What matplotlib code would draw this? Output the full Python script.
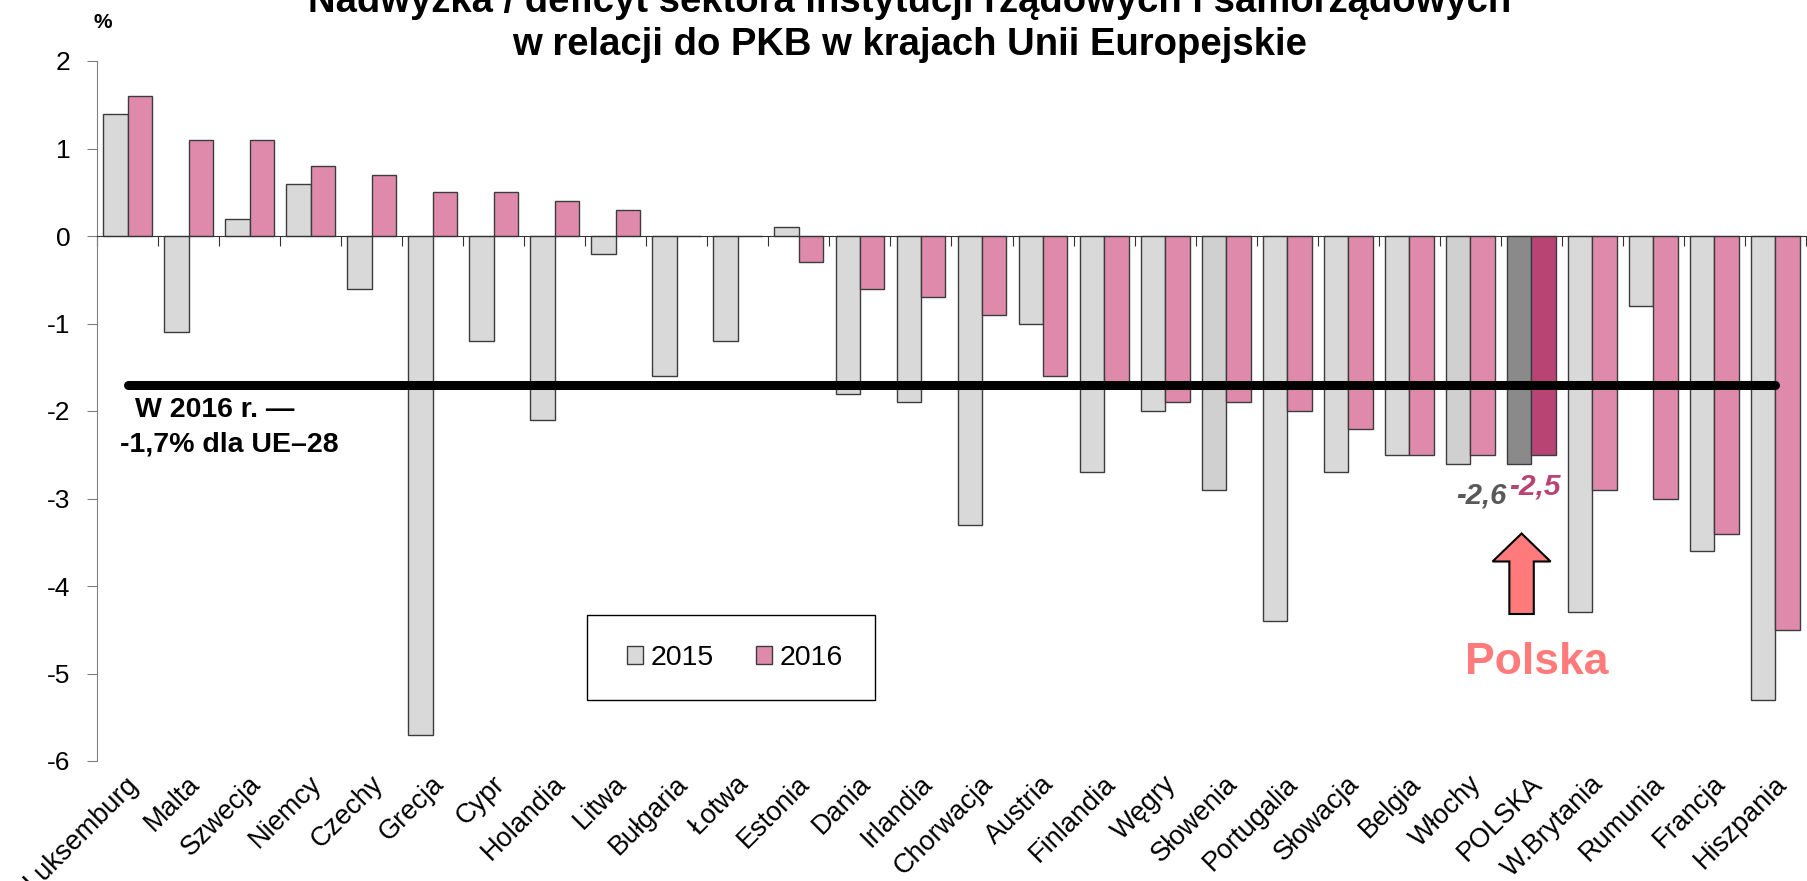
import matplotlib
matplotlib.use("Agg")
import matplotlib.pyplot as plt
import matplotlib.transforms as mtransforms
from matplotlib.patches import FancyArrow, Rectangle
import numpy as np

plt.rcParams["font.family"] = ["Liberation Sans", "DejaVu Sans"]

# General government surplus / deficit, % of GDP
countries = ["Luksemburg", "Malta", "Szwecja", "Niemcy", "Czechy", "Grecja", "Cypr",
             "Holandia", "Litwa", "Bułgaria", "Łotwa", "Estonia", "Dania", "Irlandia",
             "Chorwacja", "Austria", "Finlandia", "Węgry", "Słowenia", "Portugalia",
             "Słowacja", "Belgia", "Włochy", "POLSKA", "W.Brytania", "Rumunia",
             "Francja", "Hiszpania"]
balance_2015 = [1.4, -1.1, 0.2, 0.6, -0.6, -5.7, -1.2, -2.1, -0.2, -1.6, -1.2, 0.1,
                -1.8, -1.9, -3.3, -1.0, -2.7, -2.0, -2.9, -4.4, -2.7, -2.5, -2.6,
                -2.6, -4.3, -0.8, -3.6, -5.3]
balance_2016 = [1.6, 1.1, 1.1, 0.8, 0.7, 0.5, 0.5, 0.4, 0.3, 0.0, 0.0, -0.3,
                -0.6, -0.7, -0.9, -1.6, -1.7, -1.9, -1.9, -2.0, -2.2, -2.5, -2.5,
                -2.5, -2.9, -3.0, -3.4, -4.5]
series_names = ["2015", "2016"]
eu28_2016 = -1.7
y_ticks = [2, 1, 0, -1, -2, -3, -4, -5, -6]
highlight = "POLSKA"
title_lines = ["Nadwyżka / deficyt sektora instytucji rządowych i samorządowych",
               "w relacji do PKB w krajach Unii Europejskie"]
eu_note = ["W 2016 r. —", "-1,7% dla UE–28"]
arrow_label = "Polska"

W, H = 1808, 881
fig = plt.figure(figsize=(W / 100, H / 100), dpi=100)
ax = fig.add_axes([97 / W, 1 - 761 / H, (1806 - 97) / W, (761 - 61) / H])

n = len(countries)
x = np.arange(n)
bw = 0.4
hi = countries.index(highlight)

col15 = ["#d9d9d9"] * n
col16 = ["#df8aab"] * n
col15[countries.index("Słowenia")] = "#d0d0d0"
col15[countries.index("Włochy")] = "#d0d0d0"
col15[hi] = "#8a8a8a"
col16[hi] = "#b84473"

edge = "#3c3c3c"
ax.bar(x - bw / 2, balance_2015, bw, color=col15, edgecolor=edge, linewidth=1.0,
       label=series_names[0], zorder=2)
ax.bar(x + bw / 2, balance_2016, bw, color=col16, edgecolor=edge, linewidth=1.0,
       label=series_names[1], zorder=2)

ax.set_xlim(-0.5, n - 0.5)
ax.set_ylim(y_ticks[-1], y_ticks[0])

# axes styling: category axis crosses at zero, labels sit below the plot
for s in ("top", "right"):
    ax.spines[s].set_visible(False)
ax.spines["left"].set_color("#808080")
ax.spines["bottom"].set_position(("data", 0))
ax.spines["bottom"].set_color("#333333")
ax.spines["bottom"].set_zorder(3)
ax.set_xticks(np.arange(n + 1) - 0.5)
ax.tick_params(axis="x", direction="out", length=7, color="#333333", labelbottom=False)
ax.set_yticks(y_ticks)
ax.set_yticklabels([str(t) for t in y_ticks])
ax.tick_params(axis="y", direction="out", length=7, color="#808080", labelsize=19, pad=12)

lab_trans = mtransforms.offset_copy(ax.get_xaxis_transform(), fig=fig, x=0, y=-10, units="dots")
for xi, name in zip(x, countries):
    ax.text(xi + 0.27, 0, name, transform=lab_trans, rotation=45, ha="right", va="top",
            fontsize=19.5)

# EU-28 reference line
ax.plot([x[0], x[-1]], [eu28_2016, eu28_2016], color="black", lw=6.5,
        solid_capstyle="round", zorder=4)

# highlighted country values
v15 = balance_2015[hi]
v16 = balance_2016[hi]
ax.text(hi - 0.4, -2.96, f"{v15:.1f}".replace(".", ","), ha="right", va="center",
        fontsize=21, fontweight="bold", fontstyle="italic", color="#595959", zorder=5)
ax.text(hi - 0.36, -2.86, f"{v16:.1f}".replace(".", ","), ha="left", va="center",
        fontsize=21.5, fontweight="bold", fontstyle="italic", color="#b84473", zorder=5)

ax.add_patch(FancyArrow(hi - 0.16, -4.32, 0, 0.92, width=0.4, head_width=0.95,
                        head_length=0.32, length_includes_head=True,
                        facecolor="#ff7b7b", edgecolor="black", linewidth=1.5, zorder=5))
ax.text(hi + 0.09, -4.87, arrow_label, ha="center", va="center", fontsize=32,
        fontweight="bold", color="#ff7b7b", zorder=5)

# legend with a fixed frame
leg = ax.legend(loc="center", bbox_to_anchor=(735 / W, 1 - 658 / H),
                bbox_transform=fig.transFigure, ncol=2, fontsize=20.5, frameon=False,
                handlelength=0.56, handleheight=0.56, handletextpad=0.25,
                columnspacing=1.5)
fig.patches.append(Rectangle((587 / W, 1 - 700 / H), (875 - 587) / W, (700 - 615) / H,
                             transform=fig.transFigure, facecolor="none",
                             edgecolor="black", linewidth=1.0, zorder=6))

# titles and notes
fig.text(910 / W, 1 - 12 / H, title_lines[0], ha="center", va="baseline",
         fontsize=27.5, fontweight="bold")
fig.text(910 / W, 1 - 55 / H, title_lines[1], ha="center", va="baseline",
         fontsize=27.5, fontweight="bold")
fig.text(103 / W, 1 - 23 / H, "%", ha="center", va="center", fontsize=15, fontweight="bold")
fig.text(135 / W, 1 - 410 / H, eu_note[0], ha="left", va="center", fontsize=20.5,
         fontweight="bold")
fig.text(120 / W, 1 - 445 / H, eu_note[1], ha="left", va="center", fontsize=20.5,
         fontweight="bold")

fig.savefig("out.png", dpi=100, facecolor="white")
